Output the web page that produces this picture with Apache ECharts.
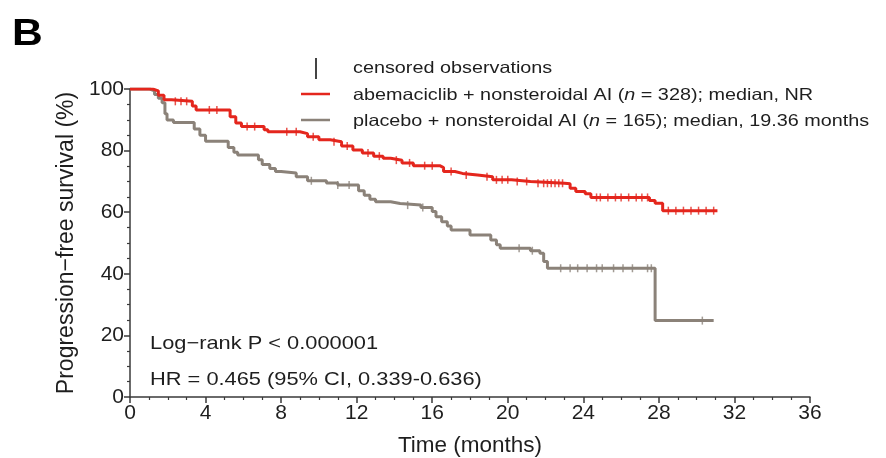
<!DOCTYPE html>
<html><head><meta charset="utf-8">
<script src="https://cdn.jsdelivr.net/npm/echarts@6/dist/echarts.min.js"></script>
<style>html,body{margin:0;padding:0;background:#fff}#c{width:886px;height:458px}</style>
</head><body><div id="c"></div>
<script>
// Kaplan-Meier step data (months, % progression-free)
const abemaTime = [0, 1.2, 1.5, 1.8, 2.2, 3.3, 3.5, 5.3, 5.6, 5.9, 7.1, 7.3, 9.0, 9.4, 10.0, 10.6, 11.2, 11.8, 12.3, 12.9, 13.4, 13.8, 14.4, 15.0, 16.4, 16.6, 17.2, 17.6, 18.4, 19.2, 20.2, 21.2, 23.0, 23.3, 23.6, 24.1, 24.4, 27.5, 27.8, 28.2, 31.1];
const abemaSurv = [100, 99.4, 98, 96.5, 96, 94.5, 93.2, 91, 89, 87.8, 86.8, 86.1, 85.5, 84.5, 83.5, 82.9, 81.5, 80.2, 79.2, 78.2, 77.5, 76.9, 76, 75.1, 74.5, 73.2, 72.6, 72.1, 71.5, 70.5, 70, 69.4, 69.2, 67.8, 66.7, 66, 64.8, 63.8, 62.9, 60.5, 60.5];
const placeboTime = [0, 1.05, 1.3, 1.5, 1.7, 1.85, 1.96, 2.3, 3.4, 3.7, 4.0, 5.2, 5.5, 5.7, 6.8, 7.0, 7.4, 7.7, 8.0, 8.8, 9.4, 10.4, 11.0, 12.1, 12.4, 12.7, 13.0, 13.8, 14.3, 15.4, 16.0, 16.2, 16.5, 16.8, 17.0, 18.0, 19.1, 19.4, 19.6, 21.2, 21.7, 21.9, 22.1, 27.8, 30.9];
const placeboSurv = [100, 99.4, 98.2, 97, 95.5, 92, 89.9, 89.1, 87, 85, 83.0, 81, 79.5, 78.6, 77, 75.5, 74.2, 73.2, 72.7, 71.5, 70.2, 69.5, 68.8, 67, 65.5, 64.2, 63.4, 62.8, 62.3, 61.5, 60.2, 58.5, 56.9, 55.5, 54.2, 52.6, 51, 49.4, 48.3, 47.5, 46.7, 44, 41.8, 24.8, 24.8];
// censoring times (months)
const abemaCensor = [2.4, 2.7, 3.0, 4.2, 4.6, 6.2, 6.6, 8.3, 8.8, 9.7, 10.8, 11.5, 12.6, 13.2, 14.1, 14.8, 15.6, 16.0, 17.0, 17.8, 18.9, 19.4, 19.7, 20.0, 20.5, 21.0, 21.6, 21.9, 22.1, 22.3, 22.5, 22.7, 22.9, 24.7, 24.9, 25.3, 25.7, 26.0, 26.4, 26.8, 27.1, 27.4, 28.5, 28.9, 29.3, 29.7, 30.1, 30.5, 30.9];
const placeboCensor = [9.6, 11.0, 11.6, 14.7, 15.5, 20.6, 21.3, 22.8, 23.3, 23.7, 24.2, 24.7, 25.0, 25.6, 26.1, 26.6, 27.4, 27.6, 30.3];
const xTickValues = [0, 4, 8, 12, 16, 20, 24, 28, 32, 36];
const yTickValues = [0, 20, 40, 60, 80, 100];

const RED = '#e4261d', GRAY = '#8b8279', TXT = '#1e1e1e';
function survAt(times, surv, t) {
  let v = surv[0];
  for (let i = 0; i < times.length; i++) { if (times[i] <= t) v = surv[i]; }
  return v;
}
const zip = (a, b) => a.map((x, i) => [x, b[i]]);
const censorPts = (c, times, surv) => c.map(t => [t, survAt(times, surv, t)]);

const chart = echarts.init(document.getElementById('c'));
const FONT = 'Liberation Sans, Arial, sans-serif';
chart.setOption({
  animation: false,
  backgroundColor: '#fff',
  grid: { left: 130, right: 76, top: 89, bottom: 61, containLabel: false, outerBoundsMode: 'none' },
  xAxis: {
    type: 'value', min: xTickValues[0], max: xTickValues[xTickValues.length - 1], interval: 4,
    name: 'Time (months)', nameLocation: 'middle', nameGap: 37,
    nameTextStyle: { fontSize: 22.5, color: TXT, fontFamily: FONT },
    axisLine: { lineStyle: { color: '#3a3a3a', width: 1.5 } },
    axisTick: { length: 6, lineStyle: { color: '#3a3a3a', width: 1.5 } },
    minorTick: { show: true, splitNumber: 4, length: 3, lineStyle: { color: '#3a3a3a', width: 1.2 } },
    axisLabel: { fontSize: 21, color: TXT, fontFamily: FONT, margin: 6 },
    splitLine: { show: false }
  },
  yAxis: {
    type: 'value', min: yTickValues[0], max: yTickValues[yTickValues.length - 1], interval: 20,
    name: 'Progression\u2212free survival (%)', nameLocation: 'middle', nameGap: 50, nameRotate: 90,
    nameTextStyle: { fontSize: 23, color: TXT, fontFamily: FONT },
    axisLine: { show: true, lineStyle: { color: '#3a3a3a', width: 1.5 } },
    axisTick: { show: true, length: 6, lineStyle: { color: '#3a3a3a', width: 1.5 } },
    minorTick: { show: true, splitNumber: 4, length: 3, lineStyle: { color: '#3a3a3a', width: 1.2 } },
    axisLabel: { fontSize: 21, color: TXT, fontFamily: FONT, margin: 6 },
    splitLine: { show: false }
  },
  series: [
    { name: 'placebo', type: 'line', step: 'end', showSymbol: false, data: zip(placeboTime, placeboSurv),
      lineStyle: { color: GRAY, width: 3 }, z: 2 },
    { name: 'abemaciclib', type: 'line', step: 'end', showSymbol: false, data: zip(abemaTime, abemaSurv),
      lineStyle: { color: RED, width: 3 }, z: 3 },
    { name: 'placebo censored', type: 'scatter', symbol: 'rect', symbolSize: [1.5, 8],
      itemStyle: { color: GRAY }, data: censorPts(placeboCensor, placeboTime, placeboSurv), z: 2 },
    { name: 'abemaciclib censored', type: 'scatter', symbol: 'rect', symbolSize: [1.5, 8],
      itemStyle: { color: RED }, data: censorPts(abemaCensor, abemaTime, abemaSurv), z: 3 }
  ],
  graphic: [
    { type: 'text', left: 12, top: 16, scaleX: 1.15, style: { text: 'B', font: 'bold 37px ' + FONT, fill: '#000' } },
    { type: 'line', shape: { x1: 316, y1: 58, x2: 316, y2: 79 }, style: { stroke: '#444', lineWidth: 2 } },
    { type: 'line', shape: { x1: 301, y1: 94, x2: 330, y2: 94 }, style: { stroke: RED, lineWidth: 2.5 } },
    { type: 'line', shape: { x1: 301, y1: 120, x2: 330, y2: 120 }, style: { stroke: GRAY, lineWidth: 2.5 } },
    { type: 'text', x: 353, y: 68, scaleX: 1.2, style: { text: 'censored observations', fontSize: 16.5, fontFamily: FONT, fill: TXT, verticalAlign: 'middle' } },
    { type: 'text', x: 353, y: 95, scaleX: 1.2, style: { text: 'abemaciclib + nonsteroidal AI ({i|n} = 328); median, NR', fontSize: 16.5, fontFamily: FONT, fill: TXT, verticalAlign: 'middle',
      rich: { i: { fontStyle: 'italic', fontSize: 16.5, fontFamily: FONT, fill: TXT } } } },
    { type: 'text', x: 353, y: 121, scaleX: 1.2, style: { text: 'placebo + nonsteroidal AI ({i|n} = 165); median, 19.36 months', fontSize: 16.5, fontFamily: FONT, fill: TXT, verticalAlign: 'middle',
      rich: { i: { fontStyle: 'italic', fontSize: 16.5, fontFamily: FONT, fill: TXT } } } },
    { type: 'text', x: 150, y: 344, scaleX: 1.2, style: { text: 'Log\u2212rank P < 0.000001', fontSize: 18.2, fontFamily: FONT, fill: TXT, verticalAlign: 'middle' } },
    { type: 'text', x: 150, y: 380, scaleX: 1.2, style: { text: 'HR = 0.465 (95% CI, 0.339-0.636)', fontSize: 18.2, fontFamily: FONT, fill: TXT, verticalAlign: 'middle' } }
  ]
});
</script>
</body></html>
